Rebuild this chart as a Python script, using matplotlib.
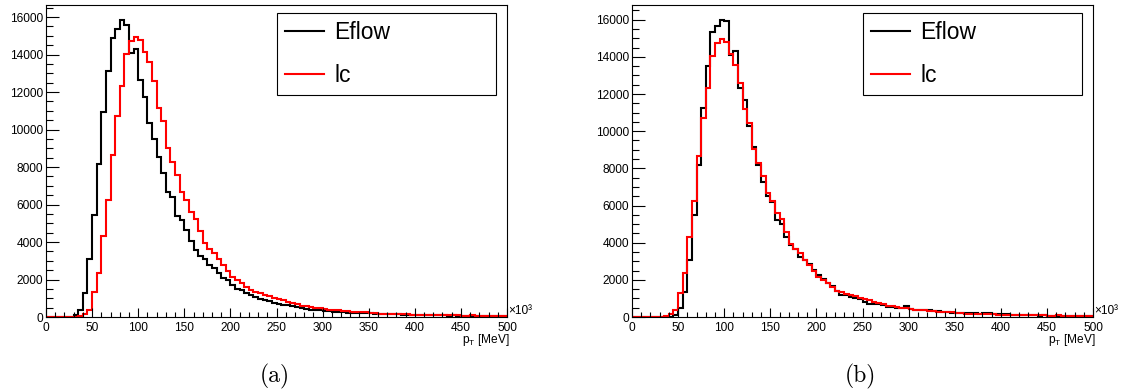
import numpy as np
from matplotlib import pyplot as plt
from matplotlib.lines import Line2D
from matplotlib.ticker import MultipleLocator

plt.rcParams['font.family'] = ['Liberation Sans', 'DejaVu Sans']
plt.rcParams['mathtext.fontset'] = 'custom'
plt.rcParams['mathtext.rm'] = 'Liberation Sans'
plt.rcParams['mathtext.it'] = 'Liberation Sans:italic'

# pT bins of 5 (x10^3 MeV) from 0 to 500
bin_edges = np.arange(0, 505, 5)

lc = [0, 0, 0, 0, 0, 0, 0, 40, 170, 400,
      1310, 2360, 4320, 6250, 8640, 10720, 12330, 14030, 14720, 14950,
      14790, 14150, 13580, 12570, 11170, 10440, 9020, 8270, 7570, 6660,
      6260, 5600, 5250, 4590, 3950, 3650, 3430, 3080, 2780, 2450,
      2160, 2000, 1820, 1600, 1420, 1330, 1260, 1200, 1120, 1040,
      960, 890, 790, 760, 680, 610, 570, 520, 490, 460,
      420, 390, 370, 360, 340, 330, 290, 280, 270, 250,
      200, 190, 180, 170, 170, 160, 150, 150, 140, 130,
      120, 130, 110, 110, 100, 110, 100, 90, 100, 90,
      80, 80, 90, 80, 70, 80, 70, 60, 70, 60]

eflow_a = [0, 0, 0, 0, 0, 0, 120, 370, 1300, 3100,
           5420, 8180, 10960, 13130, 14870, 15340, 15850, 15560, 14100, 14290,
           12650, 11760, 10340, 9490, 8560, 7670, 6660, 6390, 5400, 5190,
           4660, 4050, 3550, 3250, 3080, 2800, 2600, 2350, 2100, 1950,
           1700, 1500, 1460, 1300, 1150, 1080, 960, 900, 840, 770,
           720, 660, 650, 600, 560, 480, 430, 400, 390, 360,
           330, 310, 290, 280, 260, 240, 240, 220, 210, 200,
           190, 180, 170, 160, 150, 140, 140, 130, 120, 120,
           110, 110, 100, 100, 90, 100, 90, 80, 90, 80,
           70, 80, 70, 60, 70, 60, 60, 50, 60, 50]

eflow_b = [0, 0, 0, 0, 0, 0, 0, 0, 20, 90,
           460, 1320, 3060, 5500, 8170, 11270, 13490, 15320, 15680, 15990,
           15950, 14100, 14340, 12330, 11700, 10280, 9170, 8200, 7290, 6520,
           6210, 5230, 5010, 4330, 3850, 3640, 3250, 3060, 2870, 2550,
           2250, 2070, 1830, 1650, 1380, 1200, 1180, 1080, 1020, 960,
           830, 720, 700, 690, 620, 560, 520, 480, 500, 600,
           420, 380, 370, 360, 370, 330, 300, 270, 250, 230,
           220, 210, 200, 200, 190, 180, 190, 200, 180, 170,
           150, 140, 120, 110, 100, 90, 100, 90, 80, 90,
           80, 70, 80, 70, 60, 70, 60, 60, 50, 60]

series_names = ['Eflow', 'lc']
series_colors = ['black', 'red']
captions = ['(a)', '(b)']


def draw_panel(ax, eflow, lc_values):
    ax.stairs(eflow, bin_edges, baseline=None, color=series_colors[0],
              linewidth=1.5)
    ax.stairs(lc_values, bin_edges, baseline=None, color=series_colors[1],
              linewidth=1.5)

    ax.set_xlim(0, 500)
    ax.set_ylim(0, 1.05 * max(max(eflow), max(lc_values)))

    ax.xaxis.set_major_locator(MultipleLocator(50))
    ax.xaxis.set_minor_locator(MultipleLocator(10))
    ax.yaxis.set_major_locator(MultipleLocator(2000))
    ax.yaxis.set_minor_locator(MultipleLocator(500))
    ax.tick_params(which='both', direction='in', labelsize=8.6,
                   width=0.8, colors='black')
    ax.tick_params(axis='x', which='major', length=6.5, pad=3.5)
    ax.tick_params(axis='x', which='minor', length=3.3)
    ax.tick_params(axis='y', which='major', length=9.5, pad=2.2)
    ax.tick_params(axis='y', which='minor', length=4.8)
    for spine in ax.spines.values():
        spine.set_linewidth(0.8)

    ax.text(1.003, 0.0, '\u00d710\u00b3', transform=ax.transAxes,
            ha='left', va='bottom', fontsize=8.6)

    handles = [Line2D([], [], color=c, linewidth=1.5) for c in series_colors]
    leg = ax.legend(handles, series_names, loc='upper left',
                    bbox_to_anchor=(0.501, 0.715, 0.475, 0.259),
                    mode='expand', fontsize=16.5, frameon=True,
                    fancybox=False, framealpha=1, edgecolor='black',
                    borderpad=0.35, labelspacing=0.85, handlelength=1.7,
                    handletextpad=0.45, borderaxespad=0)
    leg.get_frame().set_linewidth(0.8)


fig = plt.figure(figsize=(11.25, 3.9), dpi=100)
W, H = 1125, 390
ax_a = fig.add_axes([46 / W, 1 - 317 / H, 461 / W, 312 / H])
ax_b = fig.add_axes([632 / W, 1 - 317 / H, 461 / W, 312 / H])

draw_panel(ax_a, eflow_a, lc)
draw_panel(ax_b, eflow_b, lc)

for ax, right_px, centre_px, cap in [(ax_a, 510, 275, captions[0]),
                                     (ax_b, 1096, 860, captions[1])]:
    fig.text(right_px / W, 1 - 340 / H, r'p$_\mathrm{T}$ [MeV]',
             ha='right', va='center', fontsize=8.6)
    fig.text(centre_px / W, 1 - 376 / H, cap, ha='center', va='center',
             fontsize=17, family='cmr10')

fig.savefig('out.png', dpi=100, facecolor='white')
